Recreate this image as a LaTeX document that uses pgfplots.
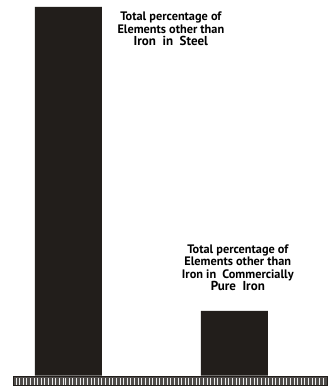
\documentclass[border=0pt]{standalone}
\usepackage{pgfplots}
\pgfplotsset{compat=1.18}
\usepackage{fontspec}
\setmainfont{PT Sans}
\definecolor{barc}{HTML}{221E1B}
\begin{document}
\begin{tikzpicture}
\begin{axis}[
  width=333pt, height=386pt, scale only axis,
  xmin=0, xmax=333, ymin=-10, ymax=376,
  axis lines=none, ticks=none,
  clip=false,
]
\path (axis cs:0,-10) rectangle (axis cs:333,376);
\addplot[ybar, bar width=67, bar shift=0pt, fill=barc, draw=none] coordinates {(68.5,369) (234.5,65)};
\fill[barc!80!white] (axis cs:13,-10) rectangle (axis cs:328,-1);
\pgfplotsinvokeforeach{16,19,23,26,30,34,37,41,44,48,52,55,59,63,66,70,73,77,81,84,88,92,95,99,102,106,110,113,117,121,124,128,131,135,139,142,146,150,153,157,160,164,168,171,175,179,182,186,189,193,197,200,204,208,211,215,218,222,226,229,233,237,240,244,247,251,255,258,262,266,269,273,276,280,284,287,291,295,298,302,305,309,313,316,320,324}{
  \draw[white!85!gray, line width=0.9pt] (axis cs:#1,-9) -- (axis cs:#1,-2);
}
\draw[barc, line width=0.6pt] (axis cs:13,-10) rectangle (axis cs:328,-1);
\node[align=center, inner sep=0pt, font=\bfseries\fontsize{12.3}{12.5}\selectfont] at (axis cs:171,347) {Total percentage of\\Elements other than\\{\fontsize{13}{13}\selectfont Iron\ \ in\ \ Steel}};
\node[align=center, inner sep=0pt, font=\bfseries\fontsize{12.3}{12.5}\selectfont] at (axis cs:238,108) {Total percentage of\\Elements other than\\Iron in\ \ Commercially\\{\fontsize{13}{13}\selectfont Pure\ \ Iron}};
\end{axis}
\end{tikzpicture}
\end{document}
